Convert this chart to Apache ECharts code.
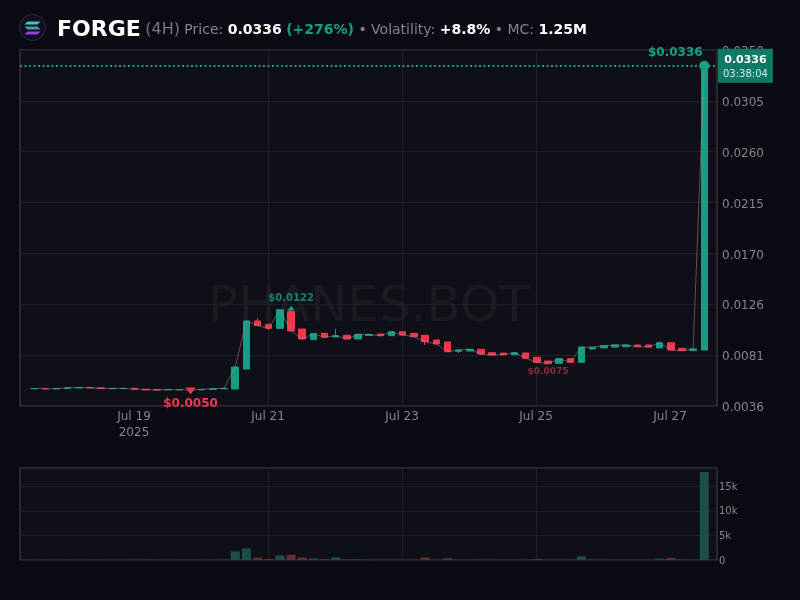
<!DOCTYPE html>
<html>
<head>
<meta charset="utf-8">
<title>FORGE</title>
<style>
  html, body { margin: 0; padding: 0; background: #090a12; }
  #chart { width: 800px; height: 600px; }
</style>
<script src="https://cdn.jsdelivr.net/npm/echarts@6/dist/echarts.min.js"></script>
</head>
<body>
<div id="chart"></div>
<script>
  var HOUR = 3600 * 1000;
  var FOUR_HOURS = 4 * HOUR;
  var firstCandle = Date.UTC(2025, 6, 17, 12);

  var opens = [
    0.00513, 0.00514, 0.00511, 0.00514, 0.0052, 0.00523, 0.0052, 0.00513, 0.00513, 0.00516,
    0.00508, 0.00505, 0.00503, 0.00505, 0.00505, 0.00503, 0.00506, 0.00512, 0.0051, 0.00686,
    0.0111, 0.01081, 0.01045, 0.01192, 0.01039, 0.00948, 0.01001, 0.00969, 0.00984, 0.00951,
    0.00982, 0.00995, 0.0098, 0.01015, 0.01001, 0.00984, 0.00942, 0.00924, 0.00842, 0.00845,
    0.0086, 0.0083, 0.00827, 0.00812, 0.00827, 0.0079, 0.00757, 0.00737, 0.00777, 0.00745,
    0.00863, 0.00872, 0.0088, 0.00883, 0.00898, 0.00898, 0.00872, 0.00918, 0.00869, 0.00848,
    0.00854
  ];
  var closes = [
    0.00514, 0.00511, 0.00514, 0.0052, 0.00523, 0.0052, 0.00515, 0.00515, 0.00516, 0.00508,
    0.00503, 0.00501, 0.00505, 0.00503, 0.00501, 0.00506, 0.00512, 0.00516, 0.00704, 0.0111,
    0.01069, 0.01045, 0.01209, 0.01022, 0.00951, 0.00998, 0.00966, 0.0098, 0.00951, 0.00992,
    0.00991, 0.0098, 0.01015, 0.00986, 0.00971, 0.00927, 0.00907, 0.00839, 0.00854, 0.0086,
    0.00819, 0.0081, 0.00812, 0.0083, 0.00781, 0.00745, 0.00733, 0.00777, 0.00745, 0.0088,
    0.00878, 0.00892, 0.00898, 0.00898, 0.00883, 0.0088, 0.00918, 0.00854, 0.00848, 0.00863,
    0.0336
  ];
  var lows = [
    0.00513, 0.00511, 0.00511, 0.00514, 0.0052, 0.0052, 0.00515, 0.00513, 0.00513, 0.00508,
    0.00503, 0.00501, 0.00503, 0.00503, 0.005, 0.00503, 0.00506, 0.00512, 0.0051, 0.00686,
    0.01069, 0.0103, 0.01045, 0.01022, 0.00951, 0.00948, 0.00966, 0.00969, 0.00951, 0.00951,
    0.00978, 0.0098, 0.0098, 0.00986, 0.00971, 0.00898, 0.00907, 0.00839, 0.00827, 0.00845,
    0.0081, 0.0081, 0.00812, 0.00812, 0.00781, 0.00745, 0.00733, 0.00737, 0.00745, 0.00745,
    0.00863, 0.00872, 0.0088, 0.00883, 0.00883, 0.0088, 0.00872, 0.00854, 0.00848, 0.00848,
    0.00854
  ];
  var highs = [
    0.00514, 0.00514, 0.00514, 0.0052, 0.00523, 0.00523, 0.0052, 0.00515, 0.00516, 0.00516,
    0.00508, 0.00505, 0.00505, 0.00505, 0.00505, 0.00506, 0.00512, 0.00516, 0.00704, 0.0111,
    0.01136, 0.01081, 0.01209, 0.0122, 0.01039, 0.00998, 0.01001, 0.01039, 0.00984, 0.00992,
    0.00997, 0.00995, 0.01015, 0.01015, 0.01001, 0.00984, 0.00942, 0.00924, 0.00854, 0.0086,
    0.0086, 0.0083, 0.00827, 0.0083, 0.00827, 0.0079, 0.00757, 0.00777, 0.00777, 0.0088,
    0.00878, 0.00892, 0.00898, 0.00898, 0.00898, 0.00898, 0.00918, 0.00918, 0.00869, 0.00863,
    0.0336
  ];
  var volumes = [
    10, 10, 10, 20, 10, 10, 10, 10, 10, 60,
    40, 10, 10, 10, 20, 10, 30, 60, 1770, 2370,
    470, 200, 950, 1080, 480, 340, 150, 540, 100, 130,
    60, 40, 60, 50, 60, 540, 60, 340, 30, 30,
    60, 40, 40, 30, 50, 200, 60, 60, 40, 750,
    70, 60, 40, 30, 30, 40, 270, 400, 40, 30,
    17900
  ];

  var yTicks = [0.0036, 0.00809, 0.01257, 0.01704, 0.02154, 0.02603, 0.03051, 0.035];
  var dateTicks = [Date.UTC(2025, 6, 19), Date.UTC(2025, 6, 21), Date.UTC(2025, 6, 23), Date.UTC(2025, 6, 25), Date.UTC(2025, 6, 27)];
  var dateLabels = ['Jul 19\n2025', 'Jul 21', 'Jul 23', 'Jul 25', 'Jul 27'];
  var currentPrice = 0.0336;
  var countdown = '03:38:04';

  var GREEN = '#12a085';
  var RED = '#f5364c';
  var FONT = '"DejaVu Sans"';
  var xMin = firstCandle - 4.83 * HOUR;
  var xMax = firstCandle + 244.8 * HOUR;

  // candles sit a hair right of the date gridlines in the reference
  var times = closes.map(function (c, i) { return firstCandle + i * FOUR_HOURS + 0.25 * HOUR; });
  var candles = closes.map(function (c, i) { return [times[i], opens[i], c, lows[i], highs[i]]; });
  var closeLine = closes.map(function (c, i) { return [times[i], c]; });
  var volumeBars = volumes.map(function (v, i) {
    return {
      value: [times[i], v],
      itemStyle: { color: closes[i] >= opens[i] ? '#1b4e4a' : '#662d35' }
    };
  });

  function dateAxis(gridIndex, showLabels) {
    return {
      type: 'value',
      gridIndex: gridIndex,
      min: xMin,
      max: xMax,
      scale: true,
      axisLine: { show: false },
      axisTick: { show: false, customValues: dateTicks },
      splitLine: { show: true, customValues: dateTicks, showMinLine: false, showMaxLine: false, lineStyle: { color: '#1e2026', width: 1 } },
      axisLabel: {
        show: showLabels,
        customValues: dateTicks,
        color: '#85858a',
        fontFamily: FONT,
        fontSize: 12,
        lineHeight: 16,
        margin: 3,
        hideOverlap: false,
        formatter: function (value) {
          return dateLabels[dateTicks.indexOf(value)] || '';
        }
      }
    };
  }

  var chart = echarts.init(document.getElementById('chart'), null, { renderer: 'canvas' });
  chart.setOption({
    animation: false,
    backgroundColor: '#090a12',
    textStyle: { fontFamily: FONT },
    title: {
      left: 57,
      top: 19,
      padding: 0,
      text: '{name|FORGE} {tf|(4H)} {mut|Price:} {val|' + currentPrice.toFixed(4) + '} {up|(+276%)} {mut|• Volatility:} {val|+8.8%} {mut|• MC:} {val|1.25M}',
      textStyle: {
        fontFamily: FONT,
        fontSize: 14,
        fontWeight: 'normal',
        rich: {
          name: { fontFamily: FONT, fontSize: 22, fontWeight: 'bold', color: '#ffffff' },
          tf: { fontFamily: FONT, fontSize: 16, fontWeight: 'normal', color: '#77777c' },
          mut: { fontFamily: FONT, fontSize: 14, fontWeight: 'normal', color: '#85858a' },
          val: { fontFamily: FONT, fontSize: 14, fontWeight: 'bold', color: '#ffffff' },
          up: { fontFamily: FONT, fontSize: 14, fontWeight: 'bold', color: GREEN }
        }
      }
    },
    grid: [
      { left: 20, top: 50, width: 697, height: 356, show: true, backgroundColor: '#0f1017', borderColor: '#323439', borderWidth: 1.5 },
      { left: 20, top: 468, width: 697, height: 92, show: true, backgroundColor: '#0f1017', borderColor: '#323439', borderWidth: 1.5 }
    ],
    xAxis: [dateAxis(0, true), dateAxis(1, false)],
    yAxis: [
      {
        type: 'value',
        gridIndex: 0,
        position: 'right',
        min: 0.0036,
        max: 0.035,
        axisLine: { show: false },
        axisTick: { show: false, customValues: yTicks },
        splitLine: { show: true, customValues: yTicks, lineStyle: { color: '#1e2026', width: 1 } },
        axisLabel: {
          customValues: yTicks,
          color: '#85858a',
          fontFamily: FONT,
          fontSize: 12,
          margin: 5,
          verticalAlign: 'top',
          lineHeight: 4,
          formatter: function (v) { return v.toFixed(4); }
        }
      },
      {
        type: 'value',
        gridIndex: 1,
        position: 'right',
        min: 0,
        max: 18700,
        interval: 5000,
        axisLine: { show: false },
        axisTick: { show: false },
        splitLine: { show: true, lineStyle: { color: '#1e2026', width: 1 } },
        axisLabel: {
          color: '#85858a',
          fontFamily: FONT,
          fontSize: 10,
          margin: 2,
          verticalAlign: 'top',
          lineHeight: 2,
          showMaxLabel: false,
          formatter: function (v) { return v === 0 ? '0' : (v / 1000) + 'k'; }
        }
      }
    ],
    graphic: [
      // watermark
      {
        type: 'text',
        left: 208,
        top: 283,
        silent: true,
        z: 0,
        style: { text: 'PHANES.BOT', fill: '#191b21', fontFamily: FONT, fontSize: 50 }
      },
      // solana logo
      {
        type: 'group',
        left: 19,
        top: 14,
        children: [
          { type: 'circle', shape: { cx: 14, cy: 14, r: 13 }, style: { fill: '#0e0f1c', stroke: '#2c2d55', lineWidth: 1 } },
          { type: 'polygon', shape: { points: [[9, 8], [22, 8], [19, 11], [6, 11]] }, style: { fill: '#3fc9b0' } },
          { type: 'polygon', shape: { points: [[6, 13], [19, 13], [22, 16], [9, 16]] }, style: { fill: '#5a8fb8' } },
          { type: 'polygon', shape: { points: [[9, 18], [22, 18], [19, 21], [6, 21]] }, style: { fill: '#9a45d8' } }
        ]
      }
    ],
    series: [
      {
        type: 'candlestick',
        xAxisIndex: 0,
        yAxisIndex: 0,
        barWidth: 7,
        data: candles,
        itemStyle: { color: GREEN, color0: RED, borderColor: GREEN, borderColor0: RED, borderWidth: 1 },
        z: 3,
        markPoint: {
          animation: false,
          data: [
            {
              coord: [times[14], 0.00493],
              symbol: 'triangle',
              symbolRotate: 180,
              symbolSize: [10, 7],
              itemStyle: { color: RED },
              label: { show: true, formatter: '$0.0050', color: RED, fontFamily: FONT, fontSize: 12, fontWeight: 'bold', position: 'bottom', distance: 3 }
            },
            {
              coord: [times[23], 0.01225],
              symbol: 'triangle',
              symbolSize: [7, 5],
              itemStyle: { color: GREEN },
              label: { show: true, formatter: '$0.0122', color: '#17806e', fontFamily: FONT, fontSize: 10, fontWeight: 'bold', position: 'top', distance: 2 }
            },
            {
              coord: [times[46], 0.00665],
              symbol: 'circle',
              symbolSize: 1,
              itemStyle: { color: 'transparent' },
              label: { show: true, formatter: '$0.0075', color: '#8a2b38', fontFamily: FONT, fontSize: 9, fontWeight: 'bold', position: 'inside' }
            }
          ]
        }
      },
      {
        type: 'line',
        xAxisIndex: 0,
        yAxisIndex: 0,
        data: closeLine,
        showSymbol: false,
        lineStyle: { color: '#8b8d92', width: 1, opacity: 0.55 },
        z: 4,
        markLine: {
          animation: false,
          silent: true,
          symbol: 'none',
          lineStyle: { color: '#1a9a83', type: [2, 2.5], width: 2 },
          data: [[{ coord: [xMin, currentPrice] }, { coord: [xMax, currentPrice] }]],
          label: {
            show: true,
            position: 'end',
            distance: 1,
            formatter: '{p|' + currentPrice.toFixed(4) + '}\n{t|' + countdown + '}',
            backgroundColor: '#0d7a66',
            padding: [4, 5, 2, 5],
            rich: {
              p: { color: '#ffffff', fontFamily: FONT, fontSize: 11, fontWeight: 'bold', lineHeight: 15, align: 'center' },
              t: { color: '#d8e6e2', fontFamily: FONT, fontSize: 10, lineHeight: 13, align: 'center' }
            }
          }
        },
        markPoint: {
          animation: false,
          data: [
            {
              coord: [times[60], currentPrice],
              symbol: 'circle',
              symbolSize: 10,
              itemStyle: { color: GREEN },
              label: { show: true, formatter: '$0.0336', color: GREEN, fontFamily: FONT, fontSize: 12, fontWeight: 'bold', position: 'inside', offset: [-29, -13] }
            }
          ]
        }
      },
      {
        type: 'bar',
        xAxisIndex: 1,
        yAxisIndex: 1,
        barWidth: 9,
        data: volumeBars
      }
    ]
  });
</script>
</body>
</html>
